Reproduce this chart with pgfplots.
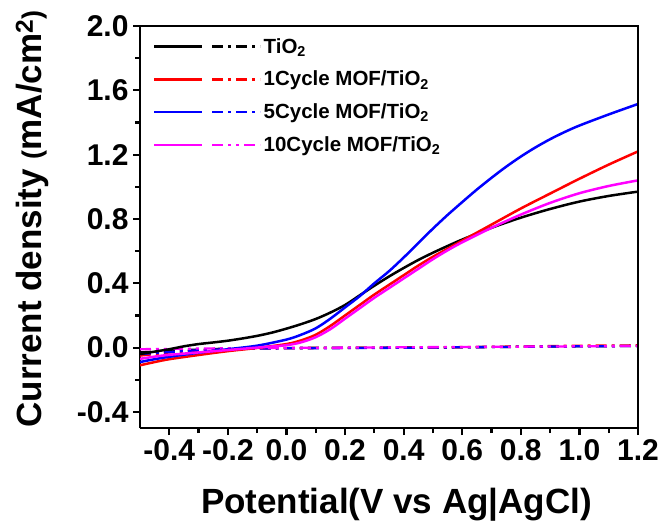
\documentclass[border=0pt]{standalone}
\usepackage{pgfplots}
\pgfplotsset{compat=1.18}
\usepackage{fontspec}
\setmainfont{Liberation Sans}
\definecolor{myred}{RGB}{255,0,0}
\definecolor{myblue}{RGB}{0,0,255}
\definecolor{mymag}{RGB}{255,0,255}
\tikzset{
  dd/.style={dash pattern=on 11pt off 5pt on 3pt off 5pt},
  ddd/.style={dash pattern=on 11pt off 5pt on 3pt off 5pt on 3pt off 5pt},
}
\pgfplotsset{
  twoline/.style={legend image code/.code={
    \draw[solid,line width=2.5pt] (-4pt,0pt) -- (44pt,0pt);
    \draw[#1,line width=2.5pt] (54pt,0pt) -- (102pt,0pt);}},
}
\begin{document}
\begin{tikzpicture}
\useasboundingbox (0pt,0pt) rectangle (666pt,520pt);
\begin{axis}[
  at={(140pt,92pt)}, anchor=south west,
  scale only axis, width=498pt, height=402pt,
  xmin=-0.5, xmax=1.2, ymin=-0.5, ymax=2.0,
  xtick={-0.4,-0.2,...,1.21}, ytick={-0.4,0,...,2.01},
  minor x tick num=1, minor y tick num=1,
  axis line style={line width=2.8pt},
  axis x line*=bottom, axis y line*=left,
  tick align=outside,
  major tick length=7pt, minor tick length=5pt,
  every tick/.style={black, line width=2.2pt},
  /pgf/number format/assume math mode=true,
  /pgf/number format/.cd, fixed, fixed zerofill, precision=1, /pgfplots/.cd,
  tick label style={font=\bfseries\fontsize{30}{30}\selectfont},
  xticklabel style={yshift=-1pt},
  yticklabel style={xshift=-1pt},
  xlabel={Potential(V vs Ag|AgCl)},
  ylabel={Current density {\fontsize{27}{27}\selectfont(}mA/cm\textsuperscript{2}{\fontsize{27}{27}\selectfont)}},
  label style={font=\bfseries\fontsize{35}{35}\selectfont},
  xlabel style={at={(axis description cs:0.515,-0.19)}, anchor=center},
  ylabel style={at={(axis description cs:-0.216,0.52)}, anchor=center, rotate=0},
  legend style={at={(axis description cs:0.02,0.98)}, anchor=north west, draw=none, fill=none,
    font=\bfseries\fontsize{20.5}{20.5}\selectfont, row sep=12.5pt},
  legend cell align=left,
  clip=true,
]
% dashed (dark) curves
\addplot[black, line width=2.3pt, dd, forget plot] coordinates {(-0.5,-0.03)(-0.4,-0.02)(-0.3,-0.012)(-0.2,-0.006)(-0.1,-0.003)(0,-0.002)(0.2,-0.001)(0.4,0.0)(0.6,0.002)(0.8,0.005)(1.0,0.008)(1.2,0.01)};
\addplot[myred, line width=2.3pt, dd, forget plot] coordinates {(-0.5,-0.05)(-0.4,-0.03)(-0.3,-0.018)(-0.2,-0.01)(-0.1,-0.006)(0,-0.004)(0.2,-0.002)(0.4,0.0)(0.6,0.003)(0.8,0.007)(1.0,0.012)(1.2,0.014)};
\addplot[myblue, line width=2.3pt, dd, forget plot] coordinates {(-0.5,-0.04)(-0.4,-0.028)(-0.3,-0.016)(-0.2,-0.009)(-0.1,-0.006)(0,-0.004)(0.2,-0.003)(0.4,-0.001)(0.6,0.002)(0.8,0.005)(1.0,0.008)(1.2,0.01)};
\addplot[mymag, line width=2.3pt, ddd, forget plot] coordinates {(-0.5,-0.01)(-0.4,-0.008)(-0.3,-0.006)(-0.2,-0.004)(-0.1,-0.003)(0,-0.002)(0.2,0.0)(0.4,0.002)(0.6,0.004)(0.8,0.006)(1.0,0.008)(1.2,0.01)};
% light curves
\addplot[black, line width=2.5pt, smooth, twoline=dd] coordinates {(-0.5,-0.04)(-0.45,-0.025)(-0.4,-0.01)(-0.35,0.008)(-0.3,0.022)(-0.25,0.032)(-0.2,0.043)(-0.15,0.057)(-0.1,0.073)(-0.05,0.093)(0,0.118)(0.05,0.146)(0.1,0.178)(0.15,0.218)(0.2,0.265)(0.25,0.325)(0.3,0.385)(0.35,0.442)(0.4,0.495)(0.45,0.545)(0.5,0.59)(0.55,0.632)(0.6,0.672)(0.7,0.745)(0.8,0.808)(0.9,0.862)(1.0,0.908)(1.1,0.943)(1.2,0.97)};
\addlegendentry{TiO\textsubscript{2}}
\addplot[myred, line width=2.5pt, smooth, twoline=dd] coordinates {(-0.5,-0.11)(-0.45,-0.09)(-0.4,-0.072)(-0.3,-0.046)(-0.2,-0.022)(-0.1,-0.002)(0,0.022)(0.05,0.045)(0.1,0.08)(0.15,0.135)(0.2,0.2)(0.25,0.265)(0.3,0.33)(0.35,0.39)(0.4,0.45)(0.45,0.51)(0.5,0.565)(0.55,0.615)(0.6,0.665)(0.7,0.765)(0.8,0.865)(0.9,0.958)(1.0,1.05)(1.1,1.138)(1.2,1.22)};
\addlegendentry{1Cycle MOF/TiO\textsubscript{2}}
\addplot[myblue, line width=2.5pt, smooth, twoline=dd] coordinates {(-0.5,-0.09)(-0.45,-0.072)(-0.4,-0.057)(-0.3,-0.032)(-0.2,-0.01)(-0.1,0.012)(0,0.05)(0.05,0.08)(0.1,0.12)(0.15,0.18)(0.2,0.25)(0.25,0.32)(0.3,0.4)(0.35,0.475)(0.4,0.56)(0.45,0.65)(0.5,0.74)(0.55,0.825)(0.6,0.905)(0.65,0.983)(0.7,1.056)(0.75,1.125)(0.8,1.188)(0.85,1.245)(0.9,1.296)(0.95,1.341)(1.0,1.381)(1.1,1.45)(1.2,1.515)};
\addlegendentry{5Cycle MOF/TiO\textsubscript{2}}
\addplot[mymag, line width=2.5pt, smooth, twoline=ddd] coordinates {(-0.5,-0.07)(-0.45,-0.056)(-0.4,-0.045)(-0.3,-0.03)(-0.2,-0.015)(-0.1,0.0)(0,0.015)(0.05,0.033)(0.1,0.065)(0.15,0.115)(0.2,0.18)(0.25,0.245)(0.3,0.31)(0.35,0.37)(0.4,0.43)(0.45,0.49)(0.5,0.55)(0.55,0.605)(0.6,0.655)(0.7,0.745)(0.8,0.827)(0.9,0.9)(1.0,0.96)(1.1,1.005)(1.2,1.04)};
\addlegendentry{10Cycle MOF/TiO\textsubscript{2}}
\end{axis}
% top and right frame lines
\draw[line width=2.8pt] (140pt,494pt) -- (638pt,494pt) -- (638pt,92pt);
\end{tikzpicture}
\end{document}
